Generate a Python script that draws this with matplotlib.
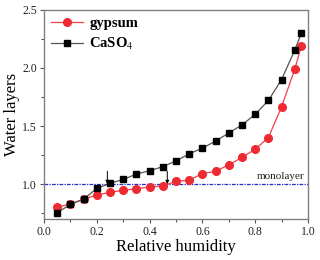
import matplotlib
matplotlib.use("Agg")
import matplotlib.pyplot as plt
from matplotlib.ticker import MultipleLocator

# relative humidity values (shared by both series)
rh = [0.05, 0.10, 0.15, 0.20, 0.25, 0.30, 0.35, 0.40, 0.45, 0.50,
      0.55, 0.60, 0.65, 0.70, 0.75, 0.80, 0.85, 0.90, 0.95, 0.975]

gypsum = [0.80, 0.83, 0.87, 0.905, 0.93, 0.946, 0.96, 0.974, 0.985, 1.023,
          1.034, 1.09, 1.11, 1.166, 1.23, 1.30, 1.40, 1.666, 1.99, 2.19]

caso4 = [0.753, 0.825, 0.87, 0.963, 1.006, 1.04, 1.086, 1.115, 1.15, 1.20,
         1.26, 1.31, 1.37, 1.44, 1.51, 1.60, 1.72, 1.90, 2.155, 2.30]

monolayer = 1.0
arrow_x = [0.24, 0.467]

plt.rcParams["font.family"] = ["Liberation Serif", "DejaVu Serif"]
plt.rcParams["mathtext.fontset"] = "stix"

fig = plt.figure(figsize=(3.2, 2.6), dpi=100)
ax = fig.add_axes([0.1375, 0.158, 0.825, 0.804])

ax.axhline(monolayer, color="#2b2bd0", lw=0.9, ls=(0, (3, 1, 1, 1)), zorder=1)
ax.text(0.985, monolayer + 0.025, "monolayer", ha="right", va="bottom",
        fontsize=8, color="#222222")

ax.plot(rh, gypsum, color="#f04048", lw=0.9, marker="o", ms=5.5,
        mfc="#ee2a33", mec="#ee2a33", label="gypsum", zorder=3)
ax.plot(rh, caso4, color="#555555", lw=0.9, marker="s", ms=5,
        mfc="black", mec="black", label="CaSO$_4$", zorder=4)

for xa in arrow_x:
    ax.annotate("", xy=(xa, 1.0), xytext=(xa, 1.11),
                arrowprops=dict(arrowstyle="-|>", color="black", lw=0.7,
                                mutation_scale=5, shrinkA=0, shrinkB=0))

ax.set_xlim(0.0, 1.0)
ax.set_ylim(0.7, 2.5)
ax.xaxis.set_major_locator(MultipleLocator(0.2))
ax.xaxis.set_minor_locator(MultipleLocator(0.1))
ax.yaxis.set_major_locator(MultipleLocator(0.5))
ax.yaxis.set_minor_locator(MultipleLocator(0.25))
ax.tick_params(which="both", direction="out", color="#555555", labelsize=8.5,
               labelcolor="#222222", pad=2)
ax.tick_params(which="major", length=3, width=0.8)
ax.tick_params(which="minor", length=2, width=0.8)
for sp in ax.spines.values():
    sp.set_color("#808080")
    sp.set_linewidth(1.0)

ax.set_xlabel("Relative humidity", fontsize=12, labelpad=1)
ax.set_ylabel("Water layers", fontsize=12, labelpad=2)

ax.legend(loc="upper left", frameon=False,
          prop={"weight": "bold", "size": 10.5},
          handlelength=2.2, handletextpad=0.4, borderpad=0.3,
          labelspacing=0.4, borderaxespad=0.2)

fig.savefig("out.png", dpi=100)
